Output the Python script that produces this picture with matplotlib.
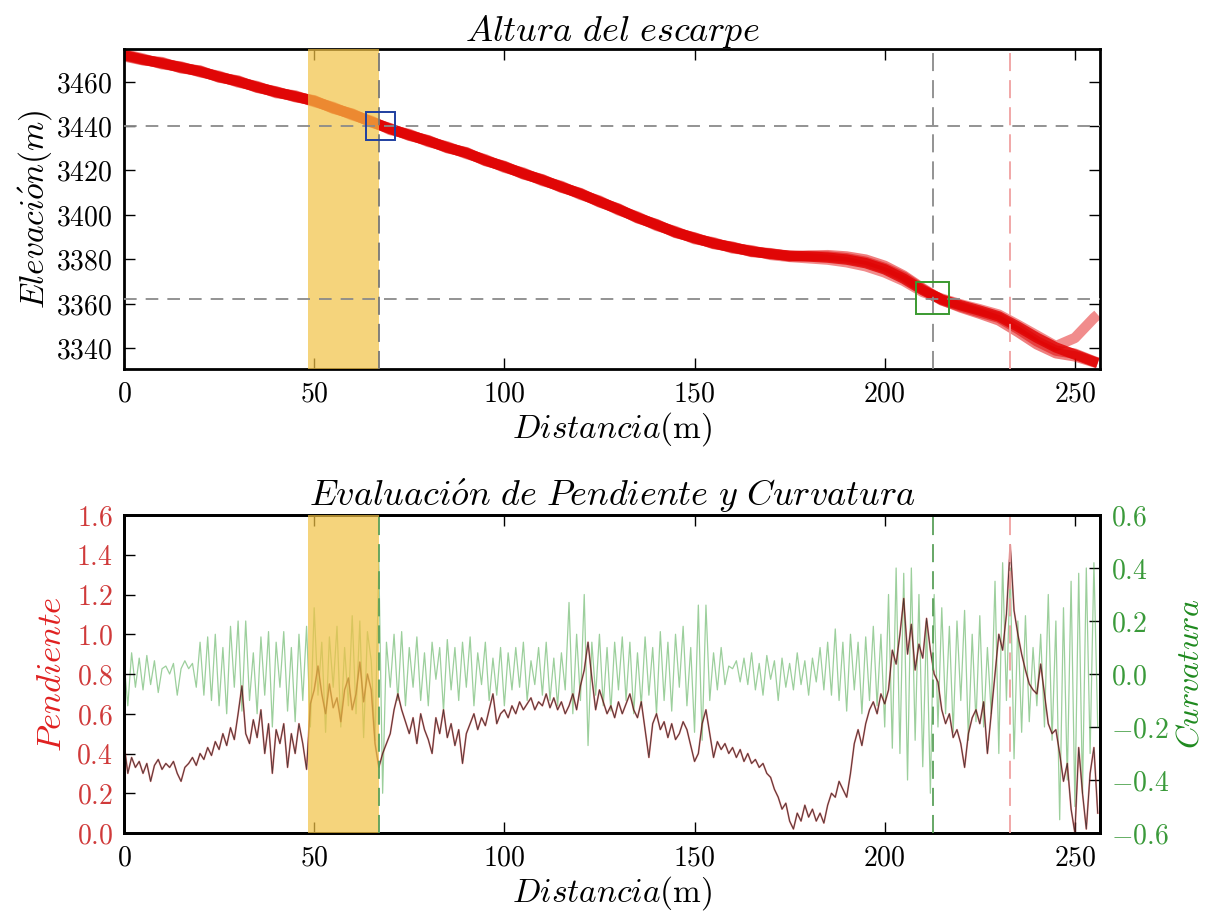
import matplotlib
matplotlib.use("Agg")
import matplotlib.pyplot as plt
import numpy as np
from matplotlib.ticker import FuncFormatter
from matplotlib.patches import Rectangle

plt.rcParams['mathtext.fontset'] = 'cm'
plt.rcParams['font.family'] = ['DejaVu Serif']

# ---------------- data: elevation profiles ----------------
prof_x = [0, 5, 10, 15, 20, 25, 30, 35, 40, 45, 50, 55, 60, 65, 70, 75, 80, 85, 90, 95,
          100, 105, 110, 115, 120, 125, 130, 135, 140, 145, 150, 155, 160, 165, 170, 175,
          180, 185, 190, 195, 200, 205, 210, 215, 220, 225, 230, 235, 240, 245, 250, 255, 256]
prof_a = [3472, 3470, 3468.2, 3466.5, 3464.5, 3462.2, 3460, 3457.6, 3455.2, 3453.4, 3451.2,
          3448.2, 3445.2, 3442, 3438.6, 3436, 3433.2, 3430.4, 3427.8, 3424.6, 3421.6, 3418.6,
          3415.6, 3412.6, 3409.4, 3406, 3402.4, 3398.8, 3395.4, 3392.2, 3389.4, 3387.2, 3385.2,
          3383.6, 3382.3, 3381.6, 3381.2, 3380.7, 3379.8, 3378.2, 3375.4, 3371.2, 3366, 3361.8,
          3359.2, 3356.8, 3354.2, 3349.6, 3344.6, 3340.2, 3337, 3333.8, 3333.2]
prof_b = [3471.4, 3469.6, 3468.8, 3466, 3465, 3461.8, 3460.5, 3457.2, 3455.6, 3453, 3451.6,
          3447.8, 3445.6, 3441.6, 3439, 3435.6, 3433.6, 3430, 3428.2, 3424.2, 3422, 3418.2,
          3416, 3412.2, 3409.8, 3405.6, 3402.8, 3398.4, 3395.8, 3391.8, 3389.8, 3386.8, 3385.6,
          3383.2, 3382.7, 3381.2, 3381.6, 3381.8, 3381.2, 3379.8, 3377, 3372.6, 3366.8, 3361.6,
          3358.2, 3355.4, 3352.4, 3347.2, 3341.6, 3337.6, 3336.2, 3333.6, 3333]
prof_c = [3472.4, 3470.4, 3467.8, 3466.8, 3464.2, 3462.6, 3459.6, 3458, 3454.8, 3453.8, 3450.8,
          3448.6, 3444.8, 3442.4, 3438.2, 3436.4, 3432.8, 3430.8, 3427.4, 3425, 3421.2, 3419,
          3415.2, 3413, 3409, 3406.4, 3402, 3399.2, 3395, 3392.6, 3389, 3387.6, 3384.8, 3384,
          3381.9, 3381, 3380.4, 3379.8, 3378.6, 3376.8, 3374, 3370.2, 3365.2, 3362.2, 3359.6,
          3357.4, 3355, 3350.4, 3345.6, 3340.8, 3344.5, 3353.5, 3355]
prof_d = [3471.8, 3469.8, 3468.4, 3466.2, 3464.8, 3462, 3460.2, 3457.4, 3455.4, 3453.2, 3451.4,
          3448, 3445.4, 3441.8, 3438.8, 3435.8, 3433.4, 3430.2, 3428, 3424.4, 3421.8, 3418.4,
          3415.8, 3412.4, 3409.6, 3405.8, 3402.6, 3398.6, 3395.6, 3392, 3389.6, 3387, 3385.4,
          3383.4, 3382.5, 3381.4, 3381.4, 3381.2, 3380.4, 3378.8, 3376, 3372, 3366.4, 3361.4,
          3358.6, 3356, 3353.6, 3348.6, 3343, 3338.8, 3337.4, 3334, 3333.4]

# ---------------- data: slope and curvature ----------------
pendiente = [
    0.45, 0.30, 0.38, 0.33, 0.36, 0.30, 0.35, 0.26, 0.34, 0.37,
    0.32, 0.35, 0.33, 0.36, 0.30, 0.26, 0.33, 0.35, 0.38, 0.34,
    0.40, 0.37, 0.43, 0.39, 0.46, 0.42, 0.50, 0.44, 0.53, 0.47,
    0.60, 0.74, 0.50, 0.45, 0.57, 0.48, 0.62, 0.40, 0.55, 0.30,
    0.52, 0.45, 0.55, 0.33, 0.50, 0.40, 0.55, 0.45, 0.32, 0.65,
    0.72, 0.84, 0.70, 0.60, 0.75, 0.63, 0.68, 0.56, 0.72, 0.78,
    0.62, 0.70, 0.86, 0.66, 0.80, 0.72, 0.45, 0.33, 0.40, 0.45,
    0.50, 0.62, 0.70, 0.62, 0.56, 0.50, 0.58, 0.45, 0.60, 0.52,
    0.47, 0.40, 0.58, 0.50, 0.62, 0.48, 0.55, 0.44, 0.52, 0.35,
    0.50, 0.55, 0.60, 0.52, 0.58, 0.54, 0.62, 0.70, 0.55, 0.60,
    0.62, 0.58, 0.64, 0.60, 0.66, 0.62, 0.65, 0.68, 0.62, 0.66,
    0.64, 0.70, 0.63, 0.68, 0.62, 0.66, 0.60, 0.64, 0.70, 0.62,
    0.74, 0.82, 0.96, 0.78, 0.62, 0.72, 0.66, 0.60, 0.64, 0.58,
    0.66, 0.60, 0.65, 0.70, 0.62, 0.58, 0.66, 0.52, 0.38, 0.55,
    0.60, 0.52, 0.56, 0.48, 0.55, 0.47, 0.50, 0.56, 0.52, 0.44,
    0.36, 0.40, 0.55, 0.62, 0.50, 0.38, 0.46, 0.42, 0.45, 0.40,
    0.43, 0.38, 0.42, 0.36, 0.40, 0.35, 0.37, 0.33, 0.35, 0.30,
    0.28, 0.22, 0.18, 0.12, 0.15, 0.06, 0.02, 0.10, 0.06, 0.14,
    0.08, 0.12, 0.06, 0.10, 0.05, 0.14, 0.20, 0.18, 0.26, 0.22,
    0.18, 0.30, 0.45, 0.52, 0.44, 0.55, 0.62, 0.66, 0.60, 0.70,
    0.65, 0.72, 0.92, 0.85, 1.00, 1.18, 0.90, 1.05, 0.82, 0.95,
    0.88, 1.08, 0.92, 0.80, 0.76, 0.62, 0.55, 0.60, 0.48, 0.52,
    0.45, 0.33, 0.50, 0.58, 0.62, 0.55, 0.66, 0.40, 0.60, 0.80,
    1.00, 0.92, 1.10, 1.45, 1.12, 1.00, 0.90, 0.82, 0.75, 0.72,
    0.70, 0.85, 0.70, 0.55, 0.50, 0.52, 0.40, 0.26, 0.35, 0.12,
    0.00, 0.43, 0.20, 0.02, 0.30, 0.43, 0.10]

curvatura = [
    0.05, -0.12, 0.08, -0.05, 0.06, -0.06, 0.07, -0.04, 0.05, -0.07,
    0.02, 0.03, 0.00, 0.04, -0.08, 0.02, 0.05, 0.02, 0.04, -0.05,
    0.12, -0.08, 0.14, -0.10, 0.15, -0.12, 0.10, -0.15, 0.18, -0.05,
    0.20, -0.14, 0.20, -0.10, 0.08, -0.15, 0.14, -0.08, 0.16, -0.20,
    0.12, -0.05, 0.16, -0.14, 0.10, -0.18, 0.15, -0.10, 0.18, -0.20,
    0.25, -0.08, 0.12, -0.22, 0.14, -0.05, 0.18, -0.20, 0.10, -0.12,
    0.22, -0.15, 0.20, -0.24, 0.16, 0.05, -0.25, 0.42, -0.45, 0.12,
    -0.05, 0.15, -0.10, 0.16, -0.12, 0.10, -0.05, 0.14, -0.10, 0.08,
    -0.12, 0.12, -0.02, 0.10, -0.14, 0.13, -0.06, 0.10, -0.10, 0.12,
    -0.05, 0.14, -0.12, 0.08, -0.04, 0.12, -0.10, 0.06, -0.08, 0.10,
    -0.12, 0.08, -0.06, 0.10, -0.05, 0.12, -0.10, 0.05, -0.04, 0.10,
    -0.08, 0.12, -0.10, 0.06, -0.12, 0.08, -0.06, 0.27, -0.15, 0.15,
    -0.10, 0.30, -0.27, 0.12, -0.08, 0.15, -0.12, 0.10, -0.14, 0.12,
    -0.06, 0.14, -0.10, 0.12, -0.15, 0.08, -0.12, 0.14, -0.08, 0.10,
    -0.15, 0.16, -0.10, 0.12, -0.14, 0.15, -0.05, 0.18, -0.12, 0.10,
    -0.22, 0.26, -0.25, 0.26, -0.10, 0.08, -0.06, 0.10, -0.04, 0.03,
    0.02, 0.05, -0.03, 0.06, -0.04, 0.08, -0.06, 0.04, -0.08, 0.07,
    -0.02, 0.05, -0.10, 0.06, -0.05, 0.04, -0.06, 0.08, -0.04, 0.05,
    -0.08, 0.06, -0.03, 0.10, -0.06, 0.12, -0.08, 0.17, -0.10, 0.12,
    -0.14, 0.15, -0.06, 0.12, -0.15, 0.14, -0.10, 0.18, -0.12, 0.15,
    -0.20, 0.30, -0.28, 0.40, -0.30, 0.38, -0.40, 0.40, -0.25, 0.30,
    -0.35, 0.20, -0.45, 0.30, -0.20, 0.25, -0.15, 0.18, -0.22, 0.20,
    -0.10, 0.24, -0.25, 0.15, -0.18, 0.22, -0.20, 0.10, -0.15, 0.35,
    -0.30, 0.42, -0.10, 0.40, -0.32, 0.20, -0.22, 0.22, -0.18, 0.10,
    -0.12, 0.15, -0.20, 0.30, -0.25, 0.20, -0.55, 0.25, -0.40, 0.35,
    -0.50, 0.38, -0.45, 0.40, -0.30, 0.42, -0.20]

distancia = list(range(len(pendiente)))

# ---------------- markers / guides ----------------
zona_ini, zona_fin = 48.3, 67.0
punto_sup = (67.5, 3440.0)
punto_inf = (212.6, 3362.5)
linea_roja = 233.0
y_ticks_top = [3340, 3360, 3380, 3400, 3420, 3440, 3460]
x_ticks = [0, 50, 100, 150, 200, 250]
y_ticks_pend = [0.0, 0.2, 0.4, 0.6, 0.8, 1.0, 1.2, 1.4, 1.6]
y_ticks_curv = [-0.6, -0.4, -0.2, 0.0, 0.2, 0.4, 0.6]

W, H = 1207, 915
fig = plt.figure(figsize=(W / 100, H / 100), dpi=100)


def frac(l, t, r, b):
    return [l / W, 1 - b / H, (r - l) / W, (b - t) / H]


def fmt_int(v, pos):
    return r"$%d$" % v


def fmt_1(v, pos):
    return r"$%.1f$" % v


def style(ax):
    for s in ax.spines.values():
        s.set_linewidth(2.0)
    ax.tick_params(direction='in', length=8, width=1.0, labelsize=20, pad=8)


# =============== top axes ===============
ax1 = fig.add_axes(frac(124, 49, 1100, 369))
style(ax1)
for prof, a in [(prof_b, 0.5), (prof_c, 0.45), (prof_d, 0.5), (prof_a, 0.8)]:
    ax1.plot(prof_x, prof, color='#e00000', lw=7.5, alpha=a, solid_capstyle='butt', zorder=2)
ax1.axvspan(zona_ini, zona_fin, color='#f2c244', alpha=0.7, lw=0, zorder=3)
dash_col = '#8a8a8a'
ax1.axhline(3440, color=dash_col, lw=1.3, dashes=(7, 5), zorder=4)
ax1.axhline(3362, color=dash_col, lw=1.3, dashes=(7, 5), zorder=4)
ax1.axvline(zona_fin, color='#777777', lw=1.3, dashes=(10, 5), zorder=4)
ax1.axvline(punto_inf[0], color=dash_col, lw=1.3, dashes=(10, 5), zorder=4)
ax1.axvline(linea_roja, color='#f0a0a0', lw=1.3, dashes=(10, 5), zorder=4)
ax1.add_patch(Rectangle((punto_sup[0] - 3.8, punto_sup[1] - 6.5), 7.6, 13.0,
                        fill=False, ec='#1f3fa0', lw=1.4, zorder=5))
ax1.add_patch(Rectangle((punto_inf[0] - 4.3, punto_inf[1] - 7.2), 8.6, 14.4,
                        fill=False, ec='#3a9a30', lw=1.4, zorder=5))
ax1.set_xlim(0, 256.6)
ax1.set_ylim(3330.5, 3474.7)
ax1.set_xticks(x_ticks)
ax1.set_yticks(y_ticks_top)
ax1.xaxis.set_major_formatter(FuncFormatter(fmt_int))
ax1.yaxis.set_major_formatter(FuncFormatter(fmt_int))
ax1.tick_params(top=True, right=True)
ax1.set_title(r"$Altura\ del\ escarpe$", fontsize=26, pad=6)
ax1.set_ylabel(r"$Elevaci\acute{o}n(m)$", fontsize=24, labelpad=2)
ax1.set_xlabel(r"$Distancia\mathrm{(m)}$", fontsize=24, labelpad=2)

# =============== bottom axes ===============
ax2 = fig.add_axes(frac(124, 515, 1100, 833))
style(ax2)
ax3 = ax2.twinx()
style(ax3)
ax3.plot(distancia, curvatura, color='#3aa03a', lw=0.9, alpha=0.5, zorder=2)
ax2.plot(distancia, pendiente, color='#d62020', lw=1.3, alpha=0.55, zorder=2)
ax2.plot(distancia, pendiente, color='#202020', lw=0.7, alpha=0.75, zorder=2)
ax2.set_zorder(ax3.get_zorder() + 1)
ax2.patch.set_visible(False)
ax2.axvspan(zona_ini, zona_fin, color='#f2c244', alpha=0.7, lw=0, zorder=3)
ax2.axvline(zona_fin, color='#5aa05a', lw=1.3, dashes=(10, 5), zorder=4)
ax2.axvline(punto_inf[0], color='#5aa05a', lw=1.3, dashes=(10, 5), zorder=4)
ax2.axvline(linea_roja, color='#f0a0a0', lw=1.3, dashes=(10, 5), zorder=4)
ax2.set_xlim(0, 256.6)
ax2.set_ylim(0, 1.6)
ax3.set_ylim(-0.6, 0.6)
ax2.set_xticks(x_ticks)
ax2.set_yticks(y_ticks_pend)
ax3.set_yticks(y_ticks_curv)
ax2.xaxis.set_major_formatter(FuncFormatter(fmt_int))
ax2.yaxis.set_major_formatter(FuncFormatter(fmt_1))
ax3.yaxis.set_major_formatter(FuncFormatter(fmt_1))
ax2.tick_params(top=True, right=False)
ax2.tick_params(axis='y', labelcolor='#d03a3a')
ax3.tick_params(axis='y', labelcolor='#3a9a3a')
ax2.set_title(r"$Evaluaci\acute{o}n\ de\ Pendiente\ y\ Curvatura$", fontsize=26, pad=6)
ax2.set_ylabel(r"$Pendiente$", fontsize=25, color='#e02020', labelpad=6)
ax3.set_ylabel(r"$Curvatura$", fontsize=23, color='#1f8a1f', labelpad=4)
ax2.set_xlabel(r"$Distancia\mathrm{(m)}$", fontsize=24, labelpad=2)

fig.savefig("out.png", dpi=100)
